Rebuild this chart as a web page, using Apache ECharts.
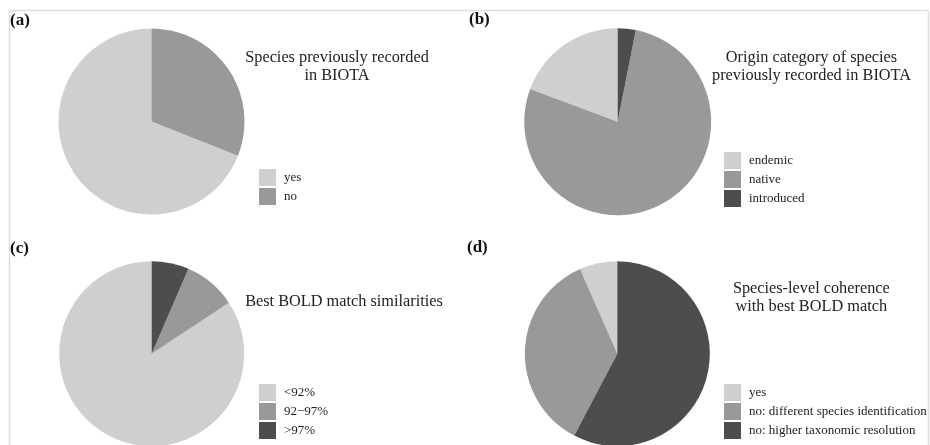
<!DOCTYPE html>
<html>
<head>
<meta charset="utf-8">
<script src="https://cdn.jsdelivr.net/npm/echarts@6/dist/echarts.min.js"></script>
<style>
html,body{margin:0;padding:0;background:#fff;}
#chart{width:930px;height:445px;}
</style>
</head>
<body>
<div id="chart"></div>
<script>
// ---- data ----
const catsA = ['yes', 'no'];
const valsA = [69, 31];
const catsB = ['endemic', 'native', 'introduced'];
const valsB = [19.3, 77.6, 3.1];
const catsC = ['<92%', '92\u221297%', '>97%'];
const valsC = [84.3, 9.2, 6.5];
const catsD = ['yes', 'no: different species identification', 'no: higher taxonomic resolution'];
const valsD = [6.6, 35.7, 57.7];
const panelLabels = ['(a)', '(b)', '(c)', '(d)'];
const titles = [
  'Species previously recorded\nin BIOTA',
  'Origin category of species\npreviously recorded in BIOTA',
  'Best BOLD match similarities',
  'Species-level coherence\nwith best BOLD match'
];

// ---- styles ----
const LIGHT = '#cfcfcf', MID = '#999999', DARK = '#4d4d4d';
const palA = [LIGHT, MID];
const palB = [LIGHT, MID, DARK];
const palC = [LIGHT, MID, DARK];
const palD = [LIGHT, MID, DARK];
const SERIF = '"Liberation Serif", "Times New Roman", serif';
const TXT = '#222';

function mk(cats, vals, pal) {
  return cats.map((c, i) => ({ name: c, value: vals[i], itemStyle: { color: pal[i] } }));
}
function pie(center, r, data) {
  return {
    type: 'pie', center: center, radius: r, startAngle: 90, clockwise: false,
    silent: true, label: { show: false }, labelLine: { show: false },
    emphasis: { disabled: true }, itemStyle: { borderWidth: 0 },
    data: data
  };
}
function legend(cats, left, top) {
  return {
    data: cats, orient: 'vertical', left: left, top: top, padding: 0,
    icon: 'rect', itemWidth: 17, itemHeight: 17, itemGap: 2,
    selectedMode: false,
    textStyle: { fontFamily: SERIF, fontSize: 13, color: TXT, padding: [0, 0, 0, 3] }
  };
}
function ttl(text, x, y) {
  return { type: 'text', x: x, y: y, silent: true,
    style: { text: text, textAlign: 'center', textVerticalAlign: 'top',
      font: '16.3px ' + SERIF, lineHeight: 18, fill: TXT } };
}
function plab(text, x, y) {
  return { type: 'text', x: x, y: y, silent: true,
    style: { text: text, textAlign: 'left', textVerticalAlign: 'middle',
      font: 'bold 17px ' + SERIF, fill: '#111' } };
}
function line(x1, y1, x2, y2) {
  return { type: 'line', silent: true, shape: { x1: x1, y1: y1, x2: x2, y2: y2 },
    style: { stroke: '#dedede', lineWidth: 1.5 } };
}

const chart = echarts.init(document.getElementById('chart'), null, { renderer: 'canvas' });
chart.setOption({
  backgroundColor: '#fff',
  animation: false,
  tooltip: { show: false },
  legend: [
    legend(catsA, 259, 169),
    legend(catsB, 724, 152),
    legend(catsC, 259, 384),
    legend(catsD, 724, 384)
  ],
  series: [
    pie([151.5, 121.5], 93, mk(catsA, valsA, palA)),
    pie([617.7, 121.7], 93.5, mk(catsB, valsB, palB)),
    pie([151.7, 353.7], 92.5, mk(catsC, valsC, palC)),
    pie([617.3, 353.7], 92.5, mk(catsD, valsD, palD))
  ],
  graphic: [
    line(9.5, 10.5, 928.5, 10.5),
    line(9.5, 10.5, 9.5, 445),
    line(928.5, 10.5, 928.5, 445),
    ttl(titles[0], 337, 49),
    ttl(titles[1], 811.5, 49),
    ttl(titles[2], 344, 292.3),
    ttl(titles[3], 811.3, 279.7),
    plab(panelLabels[0], 10, 21),
    plab(panelLabels[1], 469, 20),
    plab(panelLabels[2], 10, 248.5),
    plab(panelLabels[3], 467, 248)
  ]
});
</script>
</body>
</html>
